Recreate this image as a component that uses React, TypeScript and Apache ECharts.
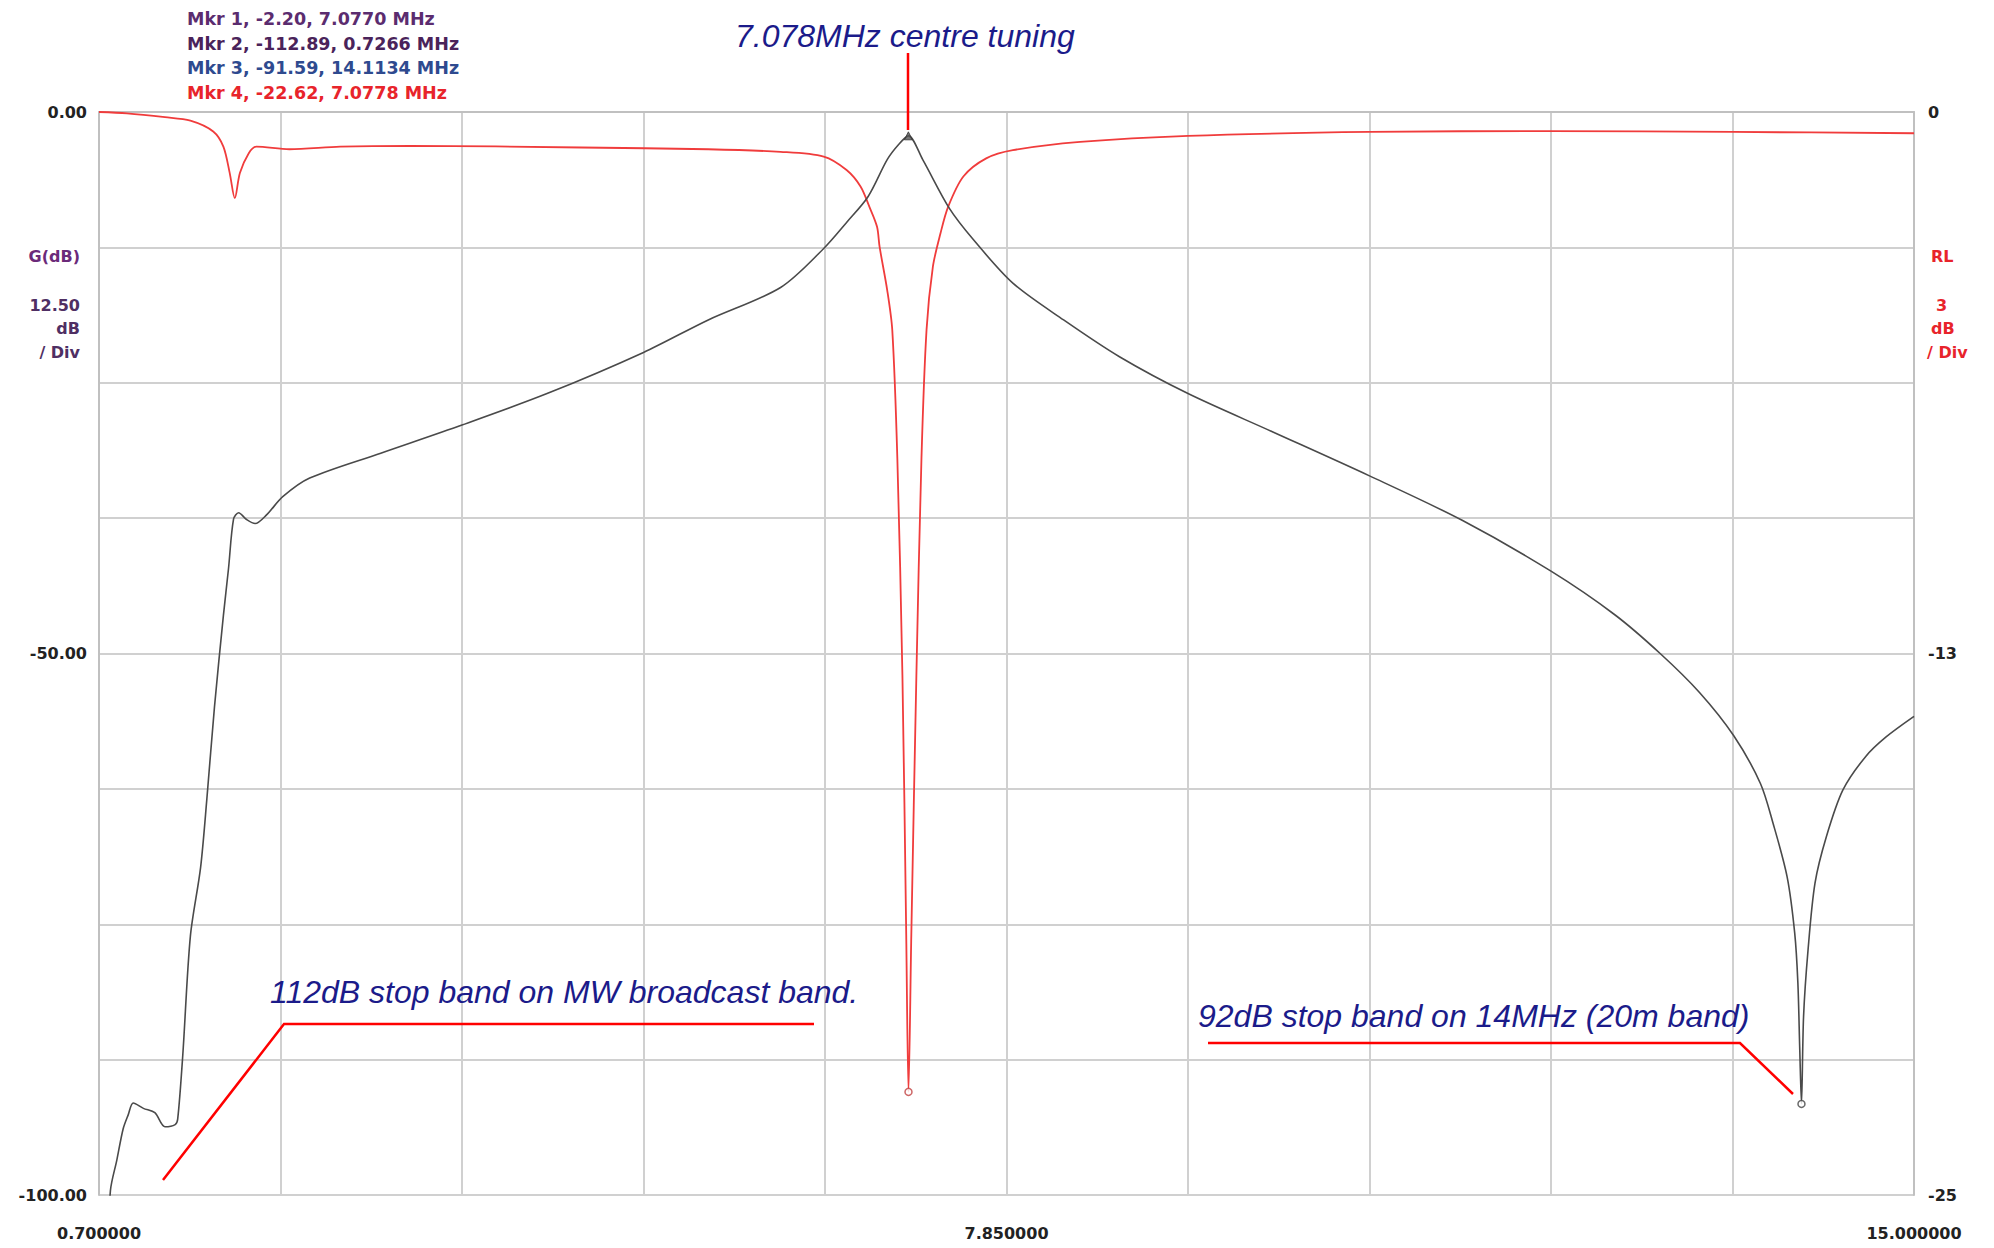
import React, { useEffect, useRef } from "react";
import * as echarts from "echarts";

// ---- axis ranges ----
const X_MIN = 0.7;
const X_MAX = 15;
const X_DIVS = 10;
const G_MIN = -100;
const G_MAX = 0;
const G_DIV = 12.5;
const RL_MIN = -25;
const RL_MAX = 0;
const RL_DIV = 3.125;

// ---- tick labels ----
const gTickValues = [0, -50, -100];
const gTickLabels = ["0.00", "-50.00", "-100.00"];
const rlTickValues = [0, -12.5, -25];
const rlTickLabels = ["0", "-13", "-25"];
const xTickDivs = [0, 5, 10];
const xTickLabels = ["0.700000", "7.850000", "15.000000"];

// ---- G (dB) trace ----
const gFreq = [
  0.7266, 0.79, 0.84, 0.89, 0.93, 0.97, 1.05, 1.14, 1.22, 1.3, 1.32, 1.36, 1.42, 1.5, 1.55, 1.61, 1.68, 1.72,
  1.76, 1.8, 1.86, 1.93, 2.02, 2.15, 2.36, 2.92, 3.56, 4.23, 4.99, 5.5, 6.07, 6.41, 6.59, 6.76, 6.91, 7.0,
  7.077, 7.19, 7.4, 7.59, 7.9, 8.3, 8.74, 9.28, 9.94, 10.71, 11.44, 12.14, 12.64, 13.0, 13.31, 13.58, 13.79,
  13.89, 14.0, 14.06, 14.085, 14.1, 14.1134, 14.13, 14.165, 14.22, 14.31, 14.44, 14.62, 14.78, 15.0,
];
const gDb = [
  -112.89, -99.6, -96.8, -93.9, -92.6, -91.5, -92.0, -92.4, -93.7, -93.5, -93.0, -87.1, -76.1, -69.8, -63.4,
  -54.9, -46.5, -42.2, -37.6, -37.0, -37.6, -38.0, -37.2, -35.5, -33.8, -31.5, -28.9, -26.0, -22.2, -19.2,
  -16.2, -12.6, -10.2, -7.8, -4.4, -3.0, -2.2, -4.4, -8.9, -11.8, -15.8, -19.2, -22.6, -26.0, -29.5, -33.6,
  -37.7, -42.4, -46.4, -50.0, -53.6, -57.6, -62.0, -65.7, -70.6, -75.8, -80.4, -86.6, -91.59, -83.5, -77.4,
  -71.2, -66.9, -62.6, -59.5, -57.7, -55.8,
];

// ---- RL trace ----
const rlFreq = [
  0.7, 0.92, 1.22, 1.42, 1.6, 1.68, 1.73, 1.77, 1.81, 1.88, 1.94, 2.2, 2.6, 3.15, 4.5, 5.5, 6.07, 6.41, 6.59,
  6.7, 6.77, 6.83, 6.85, 6.91, 6.95, 6.99, 7.03, 7.06, 7.0778, 7.1, 7.14, 7.18, 7.22, 7.27, 7.33, 7.39, 7.51,
  7.69, 7.9, 8.43, 9.28, 10.71, 12.14, 13.57, 15.0,
];
const rlDb = [
  0, -0.03, -0.12, -0.2, -0.45, -0.8, -1.41, -1.99, -1.41, -0.95, -0.8, -0.86, -0.8, -0.78, -0.82, -0.86,
  -0.92, -1.03, -1.34, -1.72, -2.19, -2.65, -3.11, -4.11, -5.03, -8.0, -13.0, -19.0, -22.62, -19.0, -13.0,
  -8.0, -5.03, -3.57, -2.8, -2.19, -1.49, -1.07, -0.88, -0.69, -0.55, -0.46, -0.44, -0.46, -0.49,
];

// ---- markers ----
const mkrIds = [1, 2, 3, 4];
const mkrValues = [-2.2, -112.89, -91.59, -22.62];
const mkrFreqs = [7.077, 0.7266, 14.1134, 7.0778];
const mkrTrace = ["G", "G", "G", "RL"];
const mkrColors = ["#5b2c6f", "#4a235a", "#2e4a8f", "#e8242b"];

const zip = (a: number[], b: number[]) => a.map((v, i) => [v, b[i]]);

const LABEL_FONT = "DejaVu Sans";
const NOTE_FONT = "Liberation Sans";
const NAVY = "#1b1b8a";
const RED = "#ff0000";

export default function App() {
  const ref = useRef<HTMLDivElement>(null);

  useEffect(() => {
    if (!ref.current) return;
    const chart = echarts.init(ref.current, undefined, { renderer: "svg" });

    const gMarkers = mkrIds
      .map((id, i) => ({ id, i }))
      .filter((m) => mkrTrace[m.i] === "G")
      .map((m) => ({
        value: [mkrFreqs[m.i], mkrValues[m.i]],
        symbol: m.id === 1 ? "triangle" : "circle",
        symbolSize: m.id === 1 ? 8 : 7,
        itemStyle:
          m.id === 1
            ? { color: "#555", borderColor: "#333", borderWidth: 1 }
            : { color: "#fff", borderColor: "#444", borderWidth: 1.5 },
      }));
    const rlMarkers = mkrIds
      .map((id, i) => ({ id, i }))
      .filter((m) => mkrTrace[m.i] === "RL")
      .map((m) => ({
        value: [mkrFreqs[m.i], mkrValues[m.i]],
        symbol: "circle",
        symbolSize: 7,
        itemStyle: { color: "#fff", borderColor: "#c04040", borderWidth: 1.5 },
      }));

    const legendTexts = mkrIds.map((id, i) => ({
      type: "text",
      x: 187,
      y: 19 + i * 24.5,
      style: {
        text: `Mkr ${id}, ${mkrValues[i].toFixed(2)}, ${mkrFreqs[i].toFixed(4)} MHz`,
        fill: mkrColors[i],
        font: `bold 17.5px "${LABEL_FONT}"`,
        verticalAlign: "middle",
      },
    }));

    const sideText = (text: string, x: number, y: number, align: string, color: string) => ({
      type: "text",
      x,
      y,
      style: {
        text,
        fill: color,
        font: `bold 16px "${LABEL_FONT}"`,
        align,
        verticalAlign: "middle",
      },
    });

    const note = (text: string, x: number, y: number) => ({
      type: "text",
      x,
      y,
      z: 11,
      style: {
        text,
        fill: NAVY,
        font: `italic 32px "${NOTE_FONT}", Arial, sans-serif`,
        verticalAlign: "middle",
      },
    });

    const leader = (pts: number[][]) => ({
      type: "polyline",
      shape: { points: pts },
      style: { stroke: RED, lineWidth: 2.5, fill: "none" },
      z: 10,
    });

    const gridLine = { color: "#d0d0d0", width: 2 };
    const borderLine = { color: "#c0c0c0", width: 2 };

    chart.setOption({
      animation: false,
      backgroundColor: "#ffffff",
      grid: { left: 99, right: 80, top: 112, bottom: 53, containLabel: false },
      xAxis: [
        { type: "value", min: X_MIN, max: X_MAX, show: false },
        {
          type: "value",
          min: 0,
          max: X_DIVS,
          interval: 1,
          position: "bottom",
          axisLine: { show: true, lineStyle: borderLine },
          axisTick: { show: false },
          splitLine: { show: true, lineStyle: gridLine },
          axisLabel: {
            margin: 30,
            fontFamily: LABEL_FONT,
            fontWeight: "bold",
            fontSize: 16,
            color: "#222",
            formatter: (v: number) => {
              const i = xTickDivs.indexOf(Math.round(v * 1000) / 1000);
              return i >= 0 ? xTickLabels[i] : "";
            },
          },
        },
      ],
      yAxis: [
        {
          type: "value",
          min: G_MIN,
          max: G_MAX,
          interval: G_DIV,
          position: "left",
          axisLine: { show: true, lineStyle: borderLine },
          axisTick: { show: false },
          splitLine: { show: true, lineStyle: gridLine },
          axisLabel: {
            margin: 12,
            fontFamily: LABEL_FONT,
            fontWeight: "bold",
            fontSize: 16,
            color: "#222",
            formatter: (v: number) => {
              const i = gTickValues.indexOf(Math.round(v * 1000) / 1000);
              return i >= 0 ? gTickLabels[i] : "";
            },
          },
        },
        {
          type: "value",
          min: RL_MIN,
          max: RL_MAX,
          interval: RL_DIV,
          position: "right",
          axisLine: { show: true, lineStyle: borderLine },
          axisTick: { show: false },
          splitLine: { show: false },
          axisLabel: {
            margin: 14,
            fontFamily: LABEL_FONT,
            fontWeight: "bold",
            fontSize: 16,
            color: "#222",
            formatter: (v: number) => {
              const i = rlTickValues.indexOf(Math.round(v * 1000) / 1000);
              return i >= 0 ? rlTickLabels[i] : "";
            },
          },
        },
      ],
      series: [
        {
          name: "RL",
          type: "line",
          xAxisIndex: 0,
          yAxisIndex: 1,
          data: zip(rlFreq, rlDb),
          showSymbol: false,
          smooth: 0.3,
          clip: true,
          lineStyle: { color: "#f03c3c", width: 1.8 },
          z: 2,
        },
        {
          name: "G",
          type: "line",
          xAxisIndex: 0,
          yAxisIndex: 0,
          data: zip(gFreq, gDb),
          showSymbol: false,
          smooth: 0.3,
          clip: true,
          lineStyle: { color: "#4a4a4a", width: 1.6 },
          z: 3,
        },
        {
          name: "G markers",
          type: "scatter",
          xAxisIndex: 0,
          yAxisIndex: 0,
          data: gMarkers,
          clip: true,
          z: 4,
        },
        {
          name: "RL markers",
          type: "scatter",
          xAxisIndex: 0,
          yAxisIndex: 1,
          data: rlMarkers,
          clip: true,
          z: 4,
        },
      ],
      graphic: [
        ...legendTexts,
        sideText("G(dB)", 80, 256, "right", "#6b2a7a"),
        sideText("12.50", 80, 305, "right", "#4f2f63"),
        sideText("dB", 80, 328, "right", "#4f2f63"),
        sideText("/ Div", 80, 352, "right", "#4f2f63"),
        sideText("RL", 1931, 256, "left", "#e8242b"),
        sideText("3", 1936, 305, "left", "#e8242b"),
        sideText("dB", 1931, 328, "left", "#e8242b"),
        sideText("/ Div", 1927, 352, "left", "#e8242b"),
        note("7.078MHz centre tuning", 735, 36),
        note("112dB stop band on MW broadcast band.", 270, 992),
        note("92dB stop band on 14MHz (20m band)", 1198, 1016),
        leader([[908, 53], [908, 130]]),
        leader([[163, 1180], [284, 1024], [814, 1024]]),
        leader([[1208, 1043], [1740, 1043], [1793, 1094]]),
      ],
    });

    return () => chart.dispose();
  }, []);

  return (
    <div
      ref={ref}
      style={{ position: "absolute", left: 0, top: 0, width: 1994, height: 1248, background: "#fff" }}
    />
  );
}
